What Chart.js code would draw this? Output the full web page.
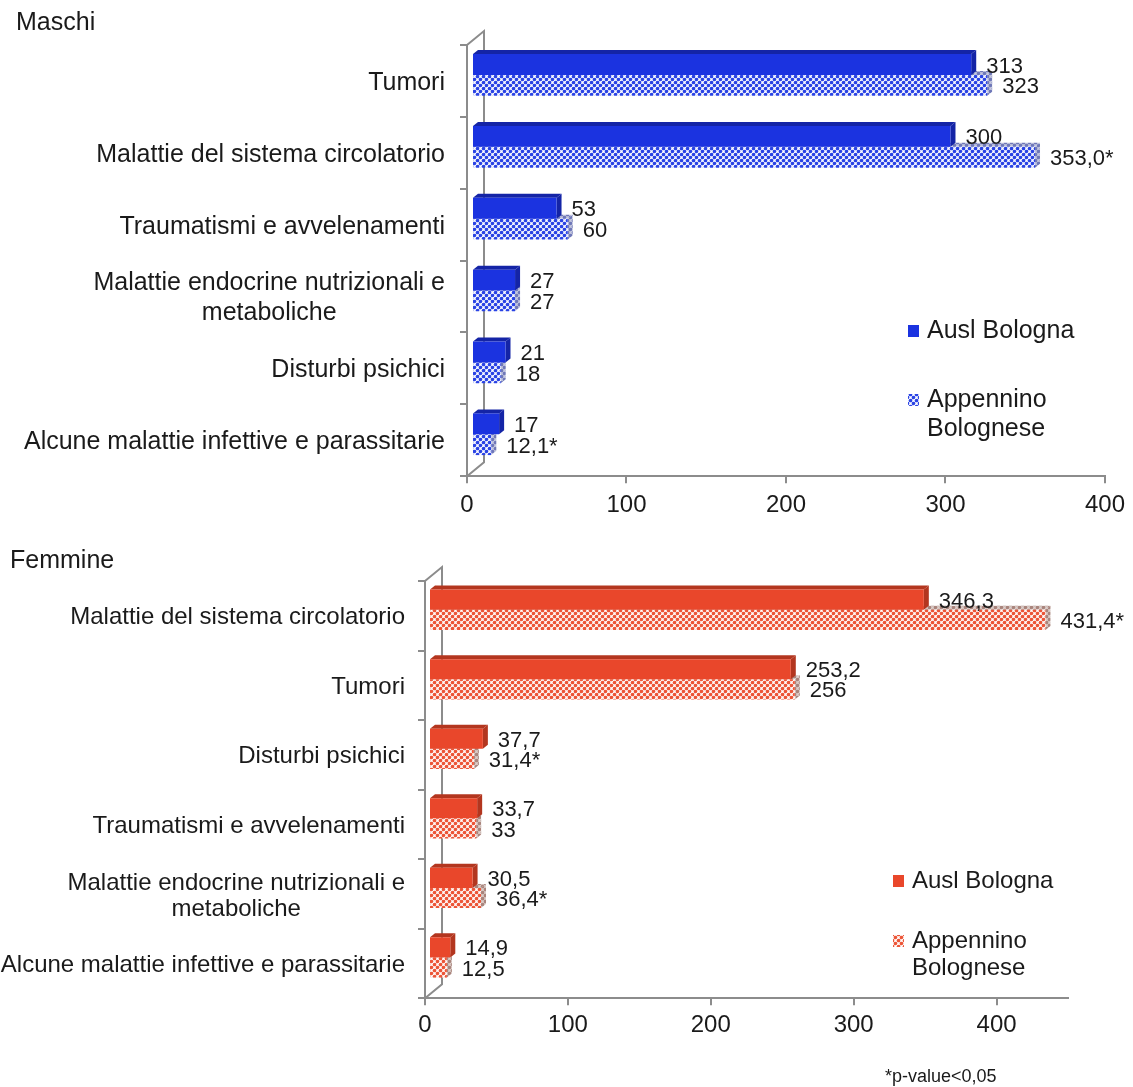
<!DOCTYPE html>
<html>
<head>
<meta charset="utf-8">
<script src="https://cdn.jsdelivr.net/npm/chart.js@4.4.0/dist/chart.umd.min.js"></script>
<style>
    body { margin: 0; background: #fff; width: 1133px; height: 1087px; position: relative; overflow: hidden;
           font-family: "Liberation Sans", Arial, sans-serif; color: #1a1a1a; }
    canvas { position: absolute; left: 0; }
    .title { position: absolute; font-size: 25px; }
</style>
</head>
<body>
<canvas id="maschi" width="1133" height="545" style="top:0"></canvas>
<canvas id="femmine" width="1133" height="547" style="top:540px"></canvas>
<div class="title" style="left:16px;top:7px">Maschi</div>
<div class="title" style="left:10px;top:545px">Femmine</div>
<div style="position:absolute;left:885px;top:1066px;font-size:18px">*p-value&lt;0,05</div>
<script>
// series names (split in lines as in the legend)
const seriesNames = [["Ausl Bologna"], ["Appennino", "Bolognese"]];

// Maschi
const maschiCategories = [
    "Tumori",
    "Malattie del sistema circolatorio",
    "Traumatismi e avvelenamenti",
    ["Malattie endocrine nutrizionali e", "metaboliche"],
    "Disturbi psichici",
    "Alcune malattie infettive e parassitarie",
];
const maschiAusl = [313, 300, 53, 27, 21, 17];
const maschiAuslDecimals = [0, 0, 0, 0, 0, 0];
const maschiAuslSignif = [false, false, false, false, false, false];
const maschiAppennino = [323, 353.0, 60, 27, 18, 12.1];
const maschiAppDecimals = [0, 1, 0, 0, 0, 1];
const maschiAppSignif = [false, true, false, false, false, true];
const maschiMax = 400;

// Femmine
const femmineCategories = [
    "Malattie del sistema circolatorio",
    "Tumori",
    "Disturbi psichici",
    "Traumatismi e avvelenamenti",
    ["Malattie endocrine nutrizionali e", "metaboliche"],
    "Alcune malattie infettive e parassitarie",
];
const femmineAusl = [346.3, 253.2, 37.7, 33.7, 30.5, 14.9];
const femmineAuslDecimals = [1, 1, 1, 1, 1, 1];
const femmineAuslSignif = [false, false, false, false, false, false];
const femmineAppennino = [431.4, 256, 31.4, 33, 36.4, 12.5];
const femmineAppDecimals = [1, 0, 1, 0, 1, 1];
const femmineAppSignif = [true, false, true, false, true, false];
const femmineMax = 450;

const tickStep = 100;
const tickLast = 400;

const FONT = '"Liberation Sans", Arial, sans-serif';
const TEXT = "#1a1a1a";
const AXIS = "#8c8c8c";

function fmt(values, decimals, signif) {
    return values.map((v, i) => v.toFixed(decimals[i]).replace(".", ",") + (signif[i] ? "*" : ""));
}

function makePattern(dot, bg) {
    const c = document.createElement("canvas");
    c.width = 6;
    c.height = 6;
    const g = c.getContext("2d");
    g.fillStyle = bg;
    g.fillRect(0, 0, 6, 6);
    g.fillStyle = dot;
    [[1.5, 1.5], [4.5, 4.5], [4.5, -1.5], [-1.5, 4.5], [7.5, 4.5], [4.5, 7.5], [7.5, 1.5], [1.5, 7.5]].forEach(([x, y]) => {
        g.beginPath();
        g.arc(x, y, 1.8, 0, Math.PI * 2);
        g.fill();
    });
    return g.createPattern(c, "repeat");
}

function poly(ctx, pts) {
    ctx.beginPath();
    ctx.moveTo(pts[0][0], pts[0][1]);
    pts.slice(1).forEach(p => ctx.lineTo(p[0], p[1]));
    ctx.closePath();
    ctx.fill();
}

// fake 3D: back wall, bar faces, value labels, category labels, legend
const bars3d = {
    id: "bars3d",
    beforeDatasetsDraw(chart, args, o) {
        const { ctx, chartArea: a } = chart;
        ctx.save();
        ctx.strokeStyle = AXIS;
        ctx.lineWidth = 2;
        ctx.beginPath();
        ctx.moveTo(a.left, a.top);
        ctx.lineTo(a.left + o.wall[0], a.top + o.wall[1]);
        ctx.lineTo(a.left + o.wall[0], a.bottom + o.wall[1]);
        ctx.lineTo(a.left, a.bottom);
        ctx.stroke();
        ctx.restore();

        ctx.save();
        ctx.translate(o.shift[0], o.shift[1]);
        const [dx, dy] = o.depth;
        for (let d = chart.data.datasets.length - 1; d >= 0; d--) {
            const ds = chart.data.datasets[d];
            chart.getDatasetMeta(d).data.forEach(el => {
                const { x, y, base, height } = el.getProps(["x", "y", "base", "height"], true);
                const t = y - height / 2, b = y + height / 2;
                ctx.fillStyle = ds.topColor;
                poly(ctx, [[base, t], [base + dx, t + dy], [x + dx, t + dy], [x, t]]);
                ctx.fillStyle = ds.sideColor;
                poly(ctx, [[x, t], [x + dx, t + dy], [x + dx, b + dy], [x, b]]);
            });
        }
    },
    afterDatasetsDraw(chart, args, o) {
        const ctx = chart.ctx;
        ctx.font = o.valueFont + "px " + FONT;
        ctx.fillStyle = TEXT;
        ctx.textAlign = "left";
        ctx.textBaseline = "middle";
        chart.data.datasets.forEach((ds, d) => {
            chart.getDatasetMeta(d).data.forEach((el, i) => {
                ctx.fillText(ds.valueLabels[i], el.x + o.valueGap, el.y + 2);
            });
        });
        ctx.restore();
    },
    afterDraw(chart, args, o) {
        const { ctx, chartArea: a } = chart;
        const yScale = chart.scales.y;
        ctx.save();
        ctx.fillStyle = TEXT;
        ctx.textBaseline = "middle";
        ctx.font = o.catFont + "px " + FONT;
        const right = a.left - o.catGap;
        chart.data.labels.forEach((lab, i) => {
            const lines = Array.isArray(lab) ? lab : [lab];
            const w = Math.max(...lines.map(l => ctx.measureText(l).width));
            const cy = yScale.getPixelForValue(i) + 2;
            ctx.textAlign = "center";
            lines.forEach((l, k) => {
                ctx.fillText(l, right - w / 2, cy + (k - (lines.length - 1) / 2) * o.catLine);
            });
        });

        // legend
        ctx.textAlign = "left";
        chart.data.datasets.forEach((ds, d) => {
            const ly = o.legend.y[d];
            ctx.fillStyle = ds.backgroundColor;
            ctx.fillRect(o.legend.x, ly - 6, 11, 12);
            ctx.fillStyle = TEXT;
            seriesNames[d].forEach((l, k) => ctx.fillText(l, o.legend.x + 19, ly + k * o.legend.line));
        });
        ctx.restore();
    },
};

function buildChart(id, cfg) {
    const ctx = document.getElementById(id).getContext("2d");
    return new Chart(ctx, {
        type: "bar",
        data: {
            labels: cfg.categories,
            datasets: [
                {
                    label: seriesNames[0].join(" "),
                    data: cfg.ausl,
                    valueLabels: cfg.auslLabels,
                    backgroundColor: cfg.color,
                    topColor: cfg.dark,
                    sideColor: cfg.dark,
                    borderWidth: 0,
                    clip: false,
                },
                {
                    label: seriesNames[1].join(" "),
                    data: cfg.app,
                    valueLabels: cfg.appLabels,
                    backgroundColor: makePattern(cfg.dot, "#ffffff"),
                    topColor: makePattern(cfg.sideDot, cfg.sideBg),
                    sideColor: makePattern(cfg.sideDot, cfg.sideBg),
                    borderWidth: 0,
                    clip: false,
                },
            ],
        },
        plugins: [bars3d],
        options: {
            responsive: false,
            animation: false,
            indexAxis: "y",
            layout: { padding: cfg.padding },
            datasets: { bar: { categoryPercentage: 0.58, barPercentage: 1 } },
            plugins: {
                legend: { display: false },
                tooltip: { enabled: false },
                bars3d: cfg.plugin,
            },
            scales: {
                x: {
                    min: 0,
                    max: cfg.max,
                    afterBuildTicks: s => { s.ticks = s.ticks.filter(t => t.value <= tickLast); },
                    ticks: {
                        stepSize: tickStep,
                        color: TEXT,
                        padding: cfg.tickPad,
                        font: { family: FONT, size: cfg.tickFont },
                    },
                    grid: { drawOnChartArea: false, tickLength: 7, color: AXIS, lineWidth: 2 },
                    border: { color: AXIS, width: 2 },
                },
                y: {
                    ticks: { display: false },
                    grid: { drawOnChartArea: false, tickLength: 7, color: AXIS, lineWidth: 2, offset: true },
                    border: { color: AXIS, width: 2 },
                },
            },
        },
    });
}

buildChart("maschi", {
    categories: maschiCategories,
    ausl: maschiAusl,
    app: maschiAppennino,
    auslLabels: fmt(maschiAusl, maschiAuslDecimals, maschiAuslSignif),
    appLabels: fmt(maschiAppennino, maschiAppDecimals, maschiAppSignif),
    max: maschiMax,
    color: "#1b33e0",
    dark: "#1424a6",
    dot: "#2a43e4",
    sideDot: "#6f78b8",
    sideBg: "#c8cbe0",
    padding: { left: 460, top: 45, right: 26, bottom: 17 },
    tickPad: 8,
    tickFont: 24,
    plugin: {
        wall: [17, -14],
        shift: [5, -6],
        depth: [5, -4],
        valueGap: 15,
        valueFont: 22,
        catFont: 25,
        catGap: 22,
        catLine: 30,
        legend: { x: 908, y: [331, 400], line: 29 },
    },
});

buildChart("femmine", {
    categories: femmineCategories,
    ausl: femmineAusl,
    app: femmineAppennino,
    auslLabels: fmt(femmineAusl, femmineAuslDecimals, femmineAuslSignif),
    appLabels: fmt(femmineAppennino, femmineAppDecimals, femmineAppSignif),
    max: femmineMax,
    color: "#e9472b",
    dark: "#b3361f",
    dot: "#ec5537",
    sideDot: "#a9847c",
    sideBg: "#ddd0cc",
    padding: { left: 418, top: 41, right: 65, bottom: 41 },
    tickPad: 6,
    tickFont: 24,
    plugin: {
        wall: [17, -14],
        shift: [4, -6],
        depth: [5, -4],
        valueGap: 15,
        valueFont: 22,
        catFont: 24,
        catGap: 20,
        catLine: 26,
        legend: { x: 893, y: [341, 401], line: 27 },
    },
});
</script>
</body>
</html>
